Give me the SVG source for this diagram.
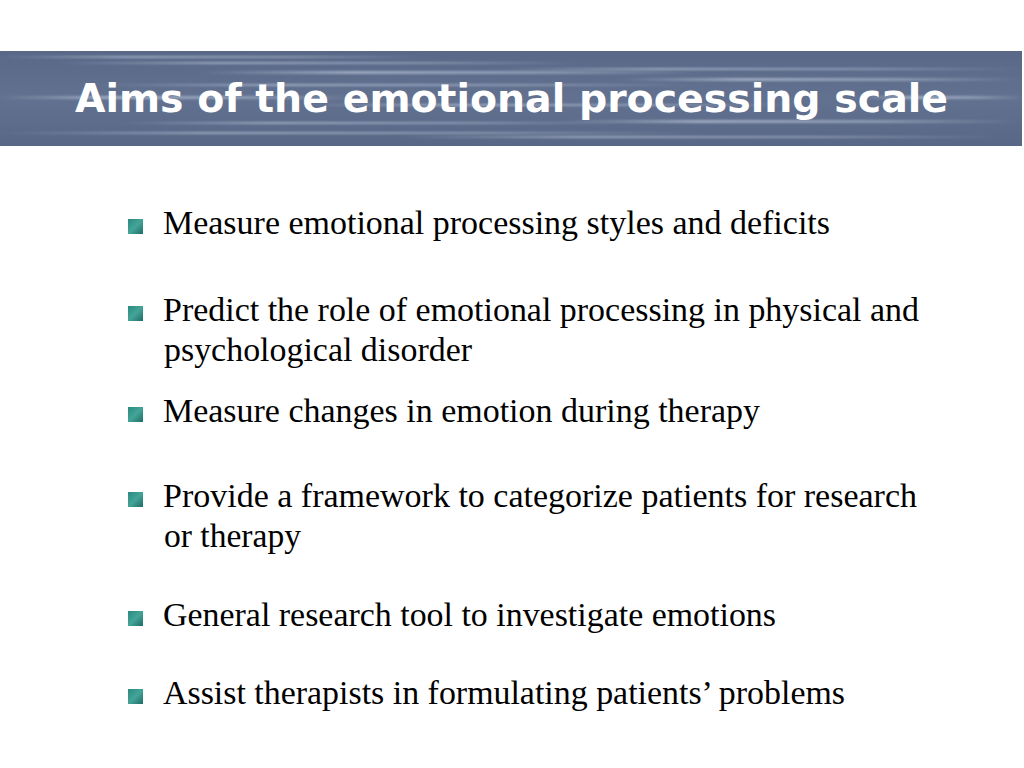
<svg xmlns="http://www.w3.org/2000/svg" width="1024" height="768" viewBox="0 0 1024 768">
<defs>
<style>
.title{font-family:"DejaVu Sans","Verdana",sans-serif;font-weight:bold;font-size:39px;fill:#ffffff}
.item{font-family:"Liberation Serif","Times New Roman",serif;font-size:34px;fill:#000000}
.bullet{fill:url(#bul)}
</style>
<linearGradient id="band" x1="0" y1="0" x2="0" y2="1">
<stop offset="0" stop-color="#5a6888"/>
<stop offset="0.5" stop-color="#62718f"/>
<stop offset="1" stop-color="#596786"/>
</linearGradient>
<linearGradient id="bul" x1="0" y1="0" x2="1" y2="1">
<stop offset="0" stop-color="#2a8a80"/>
<stop offset="0.5" stop-color="#45a498"/>
<stop offset="1" stop-color="#1d6c64"/>
</linearGradient>
<linearGradient id="streak" x1="0" y1="0" x2="1" y2="0">
<stop offset="0" stop-color="#b8c4d8" stop-opacity="0"/>
<stop offset="0.3" stop-color="#b8c4d8" stop-opacity="0.7"/>
<stop offset="0.7" stop-color="#b8c4d8" stop-opacity="0.5"/>
<stop offset="1" stop-color="#b8c4d8" stop-opacity="0"/>
</linearGradient>
<filter id="blur" x="-5%" y="-50%" width="110%" height="200%">
<feGaussianBlur stdDeviation="6 1.2"/>
</filter>
<clipPath id="bandclip"><rect x="0" y="51" width="1022" height="95"/></clipPath>
</defs>
<g id="header">
<rect x="0" y="51" width="1022" height="95" fill="url(#band)"/>
<g clip-path="url(#bandclip)" filter="url(#blur)">
<rect x="0" y="96" width="360" height="3" fill="url(#streak)"/>
<rect x="60" y="62" width="520" height="2" fill="url(#streak)"/>
<rect x="200" y="71" width="500" height="3" fill="url(#streak)"/>
<rect x="500" y="68" width="520" height="2" fill="url(#streak)"/>
<rect x="620" y="78" width="400" height="3" fill="url(#streak)"/>
<rect x="100" y="84" width="600" height="2" fill="url(#streak)"/>
<rect x="300" y="104" width="500" height="2" fill="url(#streak)"/>
<rect x="560" y="120" width="460" height="3" fill="url(#streak)"/>
<rect x="860" y="96" width="164" height="3" fill="url(#streak)"/>
<rect x="120" y="122" width="500" height="2" fill="url(#streak)"/>
<rect x="0" y="132" width="700" height="2" fill="url(#streak)"/>
<rect x="400" y="136" width="600" height="2" fill="url(#streak)"/>
<rect x="0" y="56" width="420" height="2" fill="url(#streak)"/>
</g>
<text class="title" x="75" y="112" textLength="873" lengthAdjust="spacingAndGlyphs">Aims of the emotional processing scale</text>
</g>
<g id="item1">
<rect class="bullet" x="128" y="219" width="15" height="15"/>
<text class="item" x="163" y="233.5" textLength="667" lengthAdjust="spacingAndGlyphs">Measure emotional processing styles and deficits</text>
</g>
<g id="item2">
<rect class="bullet" x="128" y="306" width="15" height="15"/>
<text class="item" x="163" y="320.5" textLength="756" lengthAdjust="spacingAndGlyphs">Predict the role of emotional processing in physical and</text>
<text class="item" x="164" y="360.5" textLength="308" lengthAdjust="spacingAndGlyphs">psychological disorder</text>
</g>
<g id="item3">
<rect class="bullet" x="128" y="407" width="15" height="15"/>
<text class="item" x="163" y="421.5" textLength="597" lengthAdjust="spacingAndGlyphs">Measure changes in emotion during therapy</text>
</g>
<g id="item4">
<rect class="bullet" x="128" y="492" width="15" height="15"/>
<text class="item" x="163" y="506.5" textLength="754" lengthAdjust="spacingAndGlyphs">Provide a framework to categorize patients for research</text>
<text class="item" x="164" y="546.5" textLength="137" lengthAdjust="spacingAndGlyphs">or therapy</text>
</g>
<g id="item5">
<rect class="bullet" x="128" y="611" width="15" height="15"/>
<text class="item" x="163" y="625.5" textLength="613" lengthAdjust="spacingAndGlyphs">General research tool to investigate emotions</text>
</g>
<g id="item6">
<rect class="bullet" x="128" y="689" width="15" height="15"/>
<text class="item" x="163" y="703.5" textLength="682" lengthAdjust="spacingAndGlyphs">Assist therapists in formulating patients’ problems</text>
</g>
</svg>
